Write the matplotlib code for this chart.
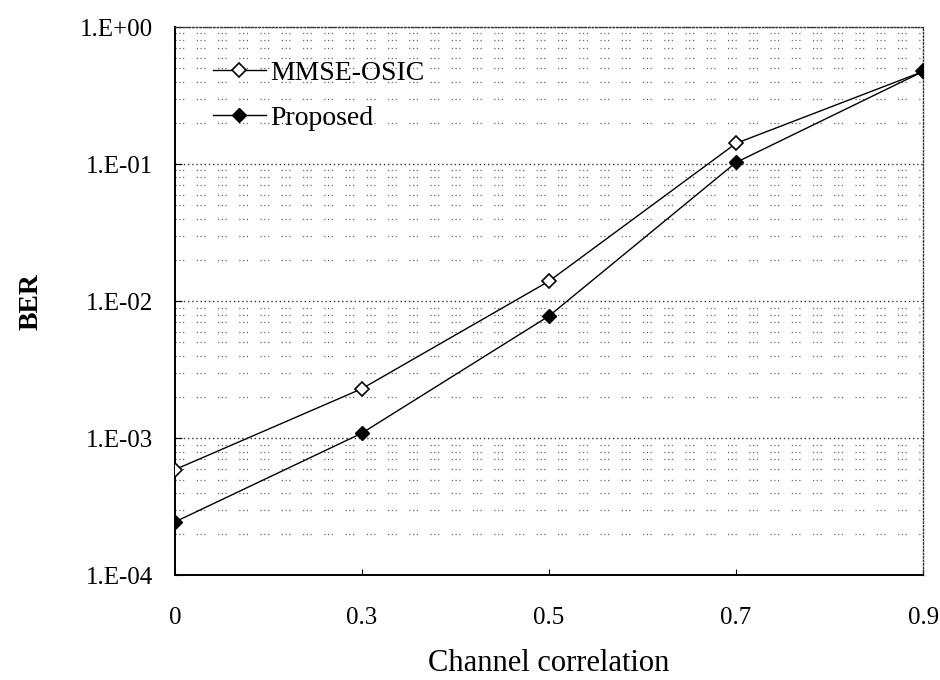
import matplotlib
matplotlib.use("Agg")
import matplotlib.pyplot as plt
import numpy as np
from matplotlib.ticker import LogLocator, FixedLocator, NullFormatter

plt.rcParams['font.family'] = ['Liberation Serif', 'DejaVu Serif']

categories = ["0", "0.3", "0.5", "0.7", "0.9"]
mmse_osic = [5.9e-4, 2.3e-3, 1.4e-2, 1.42e-1, 4.75e-1]
proposed = [2.45e-4, 1.09e-3, 7.8e-3, 1.03e-1, 4.75e-1]
ytick_labels = ["1.E-04", "1.E-03", "1.E-02", "1.E-01", "1.E+00"]
yticks = [1e-4, 1e-3, 1e-2, 1e-1, 1e0]

fig = plt.figure(figsize=(9.4, 6.8), dpi=100)
ax = fig.add_axes([0.186, 0.154, 0.796, 0.806])

x = np.arange(len(categories))
ax.plot(x, mmse_osic, color='black', lw=1.0, marker='D', markersize=7.5,
        markerfacecolor='white', markeredgecolor='black', markeredgewidth=1.2,
        label='MMSE-OSIC', zorder=3)
ax.plot(x, proposed, color='black', lw=1.0, marker='D', markersize=7.5,
        markerfacecolor='black', markeredgecolor='black',
        label='Proposed', zorder=3)

ax.set_yscale('log')
ax.set_ylim(1e-4, 1)
ax.set_xlim(0, len(categories) - 1)
ax.set_xticks(x)
ax.set_xticklabels(categories, fontsize=18)
ax.yaxis.set_major_locator(FixedLocator(yticks))
ax.set_yticklabels(ytick_labels, fontsize=18)
ax.yaxis.set_minor_locator(LogLocator(base=10, subs=np.arange(2, 10)))
ax.yaxis.set_minor_formatter(NullFormatter())

ax.grid(True, which='major', axis='y', color='#333333', lw=1.0,
        linestyle=(0, (1, 2)))
ax.grid(True, which='minor', axis='y', color='#666666', lw=0.9,
        linestyle=(0, (1, 2, 1, 2, 1, 10)))

ax.tick_params(axis='y', which='major', direction='in', length=5, pad=16)
ax.tick_params(axis='y', which='minor', direction='in', length=0)
ax.tick_params(axis='x', direction='in', length=4, pad=23)

for s in ['left', 'bottom']:
    ax.spines[s].set_linewidth(1.4)
for s in ['top', 'right']:
    ax.spines[s].set_linestyle((0, (1, 1.5)))
    ax.spines[s].set_linewidth(1.0)
    ax.spines[s].set_color('#333333')

ax.set_xlabel('Channel correlation', fontsize=22, labelpad=14)
ax.set_ylabel('BER', fontsize=20, labelpad=26, fontweight='bold')

leg = ax.legend(loc='upper left', bbox_to_anchor=(0.051, 0.94), frameon=False,
                handlelength=1.9, handletextpad=0.15, borderpad=0,
                borderaxespad=0, labelspacing=0.72,
                prop={'size': 20})

fig.savefig('out.png', dpi=100, facecolor='white')
